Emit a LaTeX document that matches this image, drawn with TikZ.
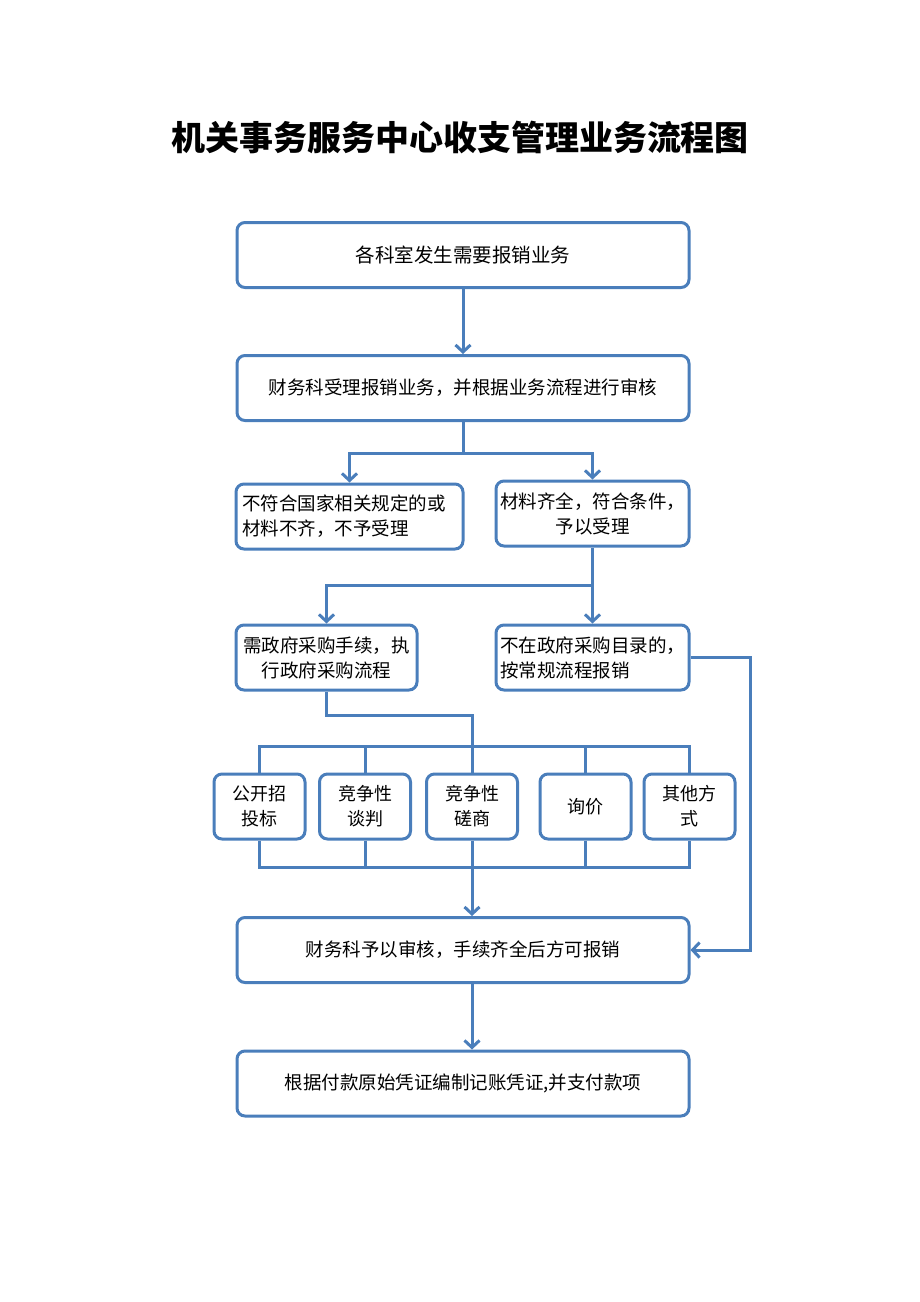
\documentclass[tikz,border=0pt]{standalone}
\usepackage{fontspec}
\newfontfamily\cjk{Noto Sans CJK SC}
\usetikzlibrary{arrows.meta}
\definecolor{flow}{HTML}{4A7EBB}

\begin{document}
\begin{tikzpicture}[x=1pt,y=-1pt,line width=3pt,draw=flow,>={Straight Barb[length=7pt,width=15pt]},
    every node/.style={font=\cjk\fontsize{18.5}{25}\selectfont},
    box/.style={draw=flow,rounded corners=8pt,minimum height=65pt,inner sep=4pt,align=center},
    wide/.style={box,minimum width=452pt},
    way/.style={box,minimum width=91pt,font=\cjk\fontsize{18}{25}\selectfont}]
    \useasboundingbox (0,0) rectangle (920,1302);

    \node[font=\cjk\fontsize{34}{40}\selectfont\bfseries] (title) at (460,137) {机关事务服务中心收支管理业务流程图};

    \node[wide,font=\cjk\fontsize{19.5}{26}\selectfont] (need) at (463,255) {各科室发生需要报销业务};
    \node[wide] (audit) at (463,388) {财务科受理报销业务，并根据业务流程进行审核};
    \node[box,minimum width=227pt,text width=215pt,inner xsep=6pt,align=left] (reject) at (349.5,516.5) {不符合国家相关规定的或\\材料不齐，不予受理};
    \node[box,minimum width=193pt] (accept) at (592.5,513.5) {材料齐全，符合条件，\\予以受理};
    \node[box,minimum width=181pt] (gov) at (326.5,657.5) {需政府采购手续，执\\行政府采购流程};
    \node[box,minimum width=193pt,text width=185pt,align=left] (normal) at (592.5,657.5) {不在政府采购目录的，\\按常规流程报销};

    \node[way] (bid) at (259.5,806.5) {公开招\\投标};
    \node[way] (talk) at (365,806.5) {竞争性\\谈判};
    \node[way] (consult) at (472,806.5) {竞争性\\磋商};
    \node[way] (price) at (585.5,806.5) {询价};
    \node[way] (other) at (689.5,806.5) {其他方\\式};

    \node[wide] (check) at (463,950) {财务科予以审核，手续齐全后方可报销};
    \node[wide] (pay) at (463,1083.5) {根据付款原始凭证编制记账凭证,并支付款项};

    \coordinate (split1) at (463,453);
    \coordinate (split2) at (592.5,585);
    \coordinate (turn) at (326.5,715);
    \coordinate (top) at (472,746);
    \coordinate (bot) at (472,867);
    \coordinate (side) at (750,657.5);

    \draw[->] (need) -- (audit);
    \draw (audit) -- (split1);
    \draw[->] (split1) -| (reject);
    \draw[->] (split1) -| (accept);

    \draw (accept) -- (split2);
    \draw[->] (split2) -| (gov);
    \draw[->] (split2) -- (normal);

    \draw (gov) -- (turn) -| (top);
    \draw (bid) -- (bid|-top) -- (other|-top) -- (other);
    \foreach \m in {talk,consult,price}
        \draw (\m) -- (\m|-top);

    \draw (bid) -- (bid|-bot) -- (other|-bot) -- (other);
    \foreach \m in {talk,consult,price}
        \draw (\m) -- (\m|-bot);
    \draw[->] (bot) -- (bot|-check.north);

    \draw[->] (normal) -- (side) |- (check);
    \draw[->] (check.south-|bot) -- (bot|-pay.north);
\end{tikzpicture}
\end{document}
